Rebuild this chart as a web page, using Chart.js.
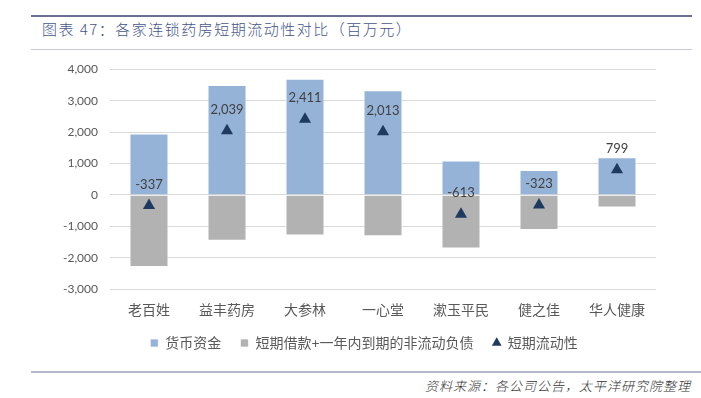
<!DOCTYPE html>
<html>
<head>
<meta charset="utf-8">
<script src="https://cdn.jsdelivr.net/npm/chart.js@4"></script>
<style>
  body { margin: 0; width: 701px; height: 398px; background: #fff; position: relative; overflow: hidden;
         font-family: "Noto Sans CJK SC", sans-serif; }
  .topline { position: absolute; left: 31px; top: 15px; width: 661px; height: 2px; background: #6d6e94; }
  .title { position: absolute; left: 42px; top: 18px; font-size: 15px; letter-spacing: 1.5px; color: #46568a; font-weight: 300; }
  .subline { position: absolute; left: 31px; top: 49px; width: 661px; height: 1px; background: #c9c9dc; }
  .botline { position: absolute; left: 31px; top: 371px; width: 670px; height: 2px; background: #b7b7cf; }
  .source { position: absolute; right: 10px; top: 376px; font-size: 13px; font-style: italic; color: #333; letter-spacing: 1px; font-weight: 300; }
  #wrap { position: absolute; left: 0; top: 50px; width: 701px; height: 312px; }
</style>
</head>
<body>
<div class="topline"></div>
<div class="title">图表 47：各家连锁药房短期流动性对比（百万元）</div>
<div class="subline"></div>
<div id="wrap"><canvas id="myChart"></canvas></div>
<div class="botline"></div>
<div class="source">资料来源：各公司公告，太平洋研究院整理</div>

<script>
// 数据
const companies = ['老百姓', '益丰药房', '大参林', '一心堂', '漱玉平民', '健之佳', '华人健康'];
const cash = [1953, 3500, 3700, 3330, 1095, 795, 1200];
const shortDebt = [-2290, -1461, -1289, -1317, -1708, -1118, -401];
const liquidity = [-337, 2039, 2411, 2013, -613, -323, 799];
const yTicks = [-3000, -2000, -1000, 0, 1000, 2000, 3000, 4000];

const baseFont = 'Lato, "Noto Sans CJK SC", sans-serif';

// 短期流动性数值标签
const valueLabels = {
    id: 'valueLabels',
    afterDatasetsDraw(chart) {
        const ctx = chart.ctx;
        const meta = chart.getDatasetMeta(2);
        ctx.save();
        ctx.font = '13px ' + baseFont;
        ctx.fillStyle = '#404040';
        ctx.textAlign = 'center';
        ctx.textBaseline = 'middle';
        meta.data.forEach(function (pt, i) {
            ctx.fillText(liquidity[i].toLocaleString('en-US'), pt.x, pt.y - 21);
        });
        ctx.restore();
    }
};

// 图例稍微右移，居中于绘图区
const legendShift = {
    id: 'legendShift',
    afterLayout(chart) {
        if (chart.legend) {
            chart.legend.left += 12;
            chart.legend.right += 12;
        }
    }
};

var ctx = document.getElementById('myChart');
var myChart = new Chart(ctx, {
    type: 'bar',
    data: {
        labels: companies,
        datasets: [{
            label: '货币资金',
            data: cash,
            backgroundColor: '#95b3d7',
            borderColor: 'rgba(255,255,255,0.7)',
            borderWidth: 1,
            stack: 'bars',
            pointStyle: 'rect',
            order: 2
        }, {
            label: '短期借款+一年内到期的非流动负债',
            data: shortDebt,
            backgroundColor: '#b2b2b2',
            borderColor: 'rgba(255,255,255,0.7)',
            borderWidth: 1,
            stack: 'bars',
            pointStyle: 'rect',
            order: 2
        }, {
            label: '短期流动性',
            type: 'line',
            data: liquidity,
            stack: 'line',
            showLine: false,
            pointStyle: 'triangle',
            pointRadius: 7,
            pointHoverRadius: 7,
            backgroundColor: '#1f3a5f',
            borderColor: '#1f3a5f',
            borderWidth: 0,
            order: 1
        }]
    },
    options: {
        responsive: true,
        maintainAspectRatio: false,
        animation: false,
        layout: { padding: { left: 48, right: 45, top: 0, bottom: 2 } },
        scales: {
            x: {
                stacked: true,
                grid: { display: false },
                border: { display: false },
                ticks: { color: '#595959', font: { size: 14, family: baseFont }, padding: 5 }
            },
            y: {
                stacked: true,
                min: -3000,
                max: 4000,
                afterBuildTicks(scale) {
                    scale.ticks = yTicks.map(v => ({ value: v }));
                },
                afterFit(scale) { scale.width = 62; },
                grid: { color: '#d9d9d9', drawTicks: false },
                border: { display: false },
                ticks: {
                    color: '#595959',
                    font: { size: 12, family: baseFont },
                    padding: 12,
                    callback: v => v.toLocaleString('en-US')
                }
            }
        },
        datasets: { bar: { categoryPercentage: 1, barPercentage: 0.5 } },
        plugins: {
            legend: {
                position: 'bottom',
                labels: {
                    usePointStyle: true,
                    boxWidth: 8,
                    boxHeight: 8,
                    padding: 12,
                    color: '#595959',
                    font: { size: 14, family: baseFont },
                    sort: (a, b) => a.datasetIndex - b.datasetIndex,
                    generateLabels(chart) {
                        const items = Chart.defaults.plugins.legend.labels.generateLabels(chart);
                        items.forEach(it => { if (it.datasetIndex < 2) it.text = it.text + '  '; });
                        return items;
                    }
                }
            },
            tooltip: { enabled: false }
        }
    },
    plugins: [valueLabels, legendShift]
});
</script>
</body>
</html>
